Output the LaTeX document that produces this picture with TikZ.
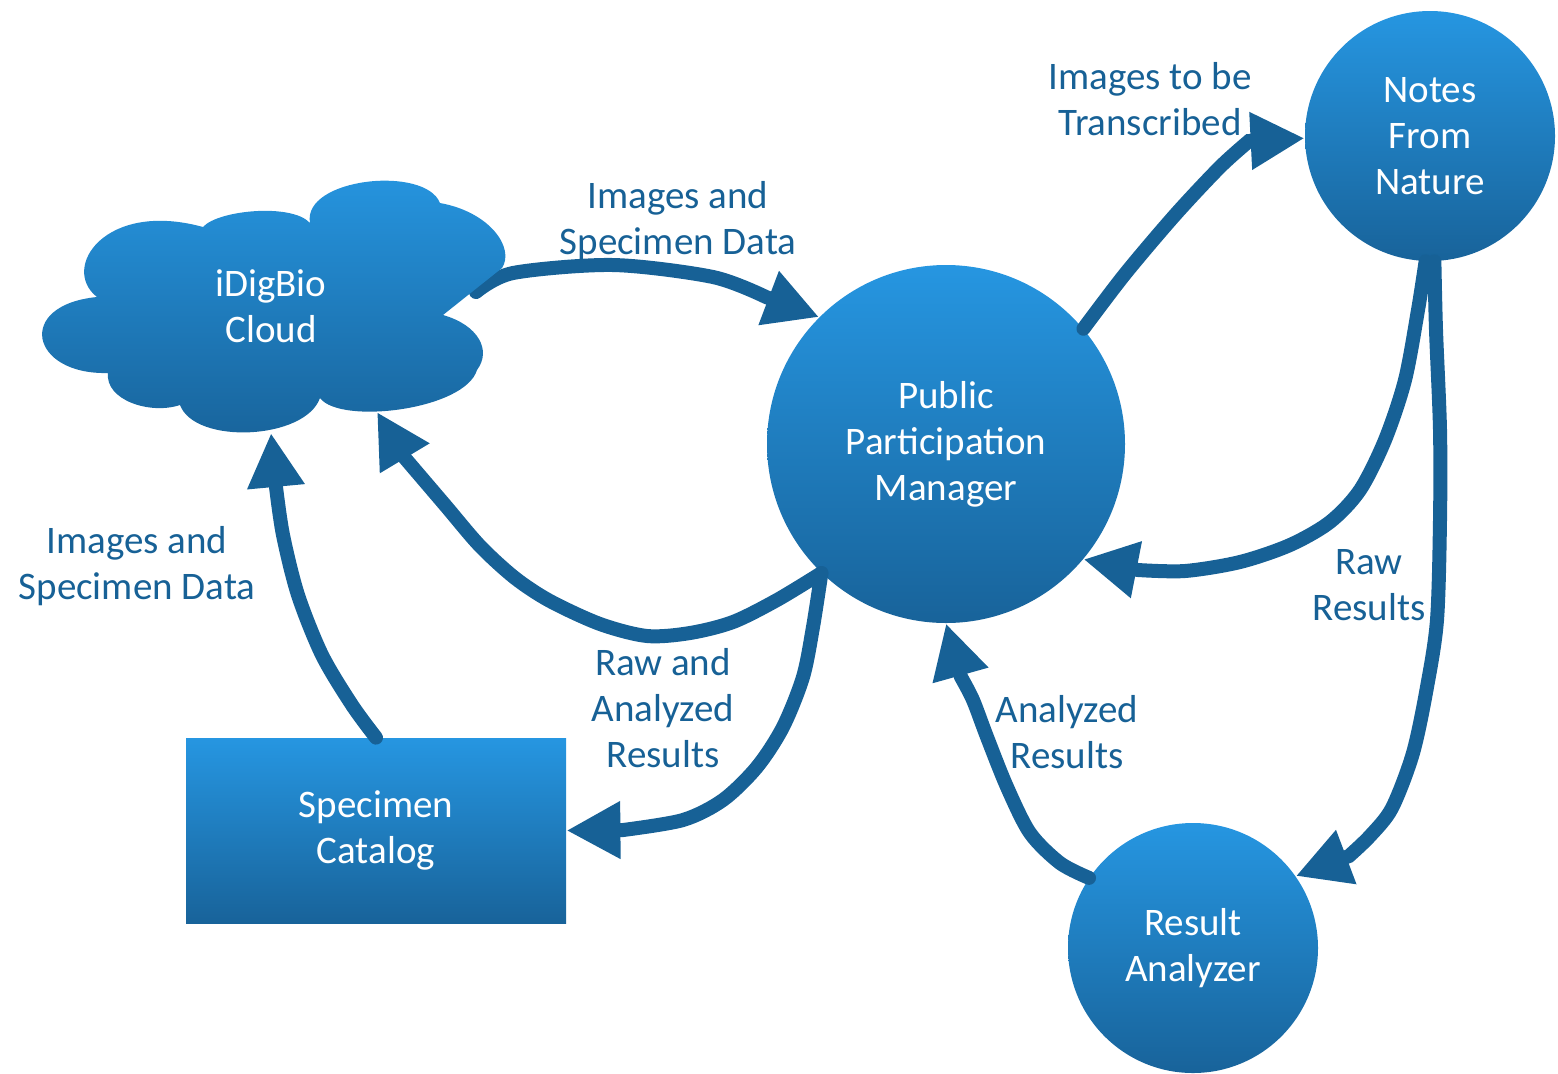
\documentclass[tikz,border=0pt]{standalone}
\usepackage{fontspec}
\setmainfont{Carlito}
\usetikzlibrary{positioning, arrows.meta}

\definecolor{flowblue}{RGB}{23,97,150}
\definecolor{topblue}{RGB}{38,150,225}
\definecolor{botblue}{RGB}{24,99,154}

\begin{document}
\begin{tikzpicture}[x=0.5pt,y=-0.5pt,>={Triangle[length=27pt,width=27pt]},
  txt/.style={align=center,font=\fontsize{19.5}{23}\selectfont},
  blob/.style={txt,circle,inner sep=0pt,top color=topblue,bottom color=botblue,text=white},
  box/.style={txt,rectangle,inner sep=0pt,top color=topblue,bottom color=botblue,text=white},
  lbl/.style={txt,text=flowblue},
  flow/.style={->,draw=flowblue,line width=7pt,line cap=round}]

\useasboundingbox (0,0) rectangle (1558,1073);

% les blocs
\node[blob,minimum size=179pt] (ppm) at (946,444) {Public\\Participation\\Manager};
\node[blob,minimum size=125pt] (nfn) at (1430,136) {Notes\\From\\Nature};
\node[blob,minimum size=125pt] (ra) at (1193,948) {Result\\Analyzer};
\node[box,minimum width=190pt,minimum height=92.5pt] (catalog) at (376,830.5) {Specimen\\Catalog};
\coordinate (cloudE) at (476,292);
\coordinate (cloudS) at (377,412);
\coordinate (cloudB) at (271,433);

% les fleches
\draw[flow] plot[smooth] coordinates{(cloudE)(513,273)(613,265)(713,277)(766,297)} -- (ppm.135);
\draw[flow] plot[smooth] coordinates{(ppm.226)(777,600)(733,622)(690,633)(647,636)(600,624)(550,601)(515,578)(480,546)(445,505)(404,457)} -- (cloudS);
\draw[flow] plot[smooth] coordinates{(catalog.north)(352,705)(322,655)(298,595)(283,535)(276,487)} -- (cloudB);
\draw[flow] plot[smooth] coordinates{(ppm.226)(813,627)(803,677)(783,727)(757,767)(723,800)(683,820)(623,830)} -- (catalog.east);
\draw[flow] plot[smooth] coordinates{(ppm.40)(1125,274)(1175,215)(1220,167)(1249,141)} -- (nfn.181);
\draw[flow] plot[smooth] coordinates{(nfn.268)(1418,310)(1405,380)(1385,440)(1360,490)(1330,522)(1290,545)(1240,562)(1185,571)(1138,570)} -- (ppm.-40);
\draw[flow] plot[smooth] coordinates{(nfn.272)(1436,330)(1440,430)(1440,520)(1437,620)(1427,687)(1413,753)(1392,808)(1370,836)(1349,856)} -- (ra.35);
\draw[flow] plot[smooth] coordinates{(ra.146)(1060,863)(1030,833)(1007,787)(987,737)(973,700)(961,677)} -- (ppm.south);

% le nuage
\shade[top color=topblue,bottom color=botblue]
  (203,227) .. controls (218,210) and (292,203) .. (310,223)
  .. controls (302,178) and (425,165) .. (440,203)
  .. controls (490,212) and (515,248) .. (502,268)
  -- (443,315)
  .. controls (478,325) and (492,350) .. (477,370)
  .. controls (465,410) and (340,425) .. (320,398)
  .. controls (305,440) and (195,445) .. (180,405)
  .. controls (150,415) and (105,400) .. (108,373)
  .. controls (30,375) and (15,305) .. (97,297)
  .. controls (60,268) and (105,200) .. (203,227) -- cycle;
\node[txt,text=white] (cloud) at (271,306) {iDigBio\\Cloud};

% les etiquettes
\node[lbl] (imgtop) at (678,221) {Images and\\Specimen Data};
\node[lbl] (imgtrans) at (1150,99) {Images to be\\Transcribed};
\node[lbl] (imgleft) at (137,566) {Images and\\Specimen Data};
\node[lbl] (rawana) at (663,708) {Raw and\\Analyzed\\Results};
\node[lbl] (ana) at (1067,732) {Analyzed\\Results};
\node[lbl] (raw) at (1369,585) {Raw\\Results};
\end{tikzpicture}
\end{document}
